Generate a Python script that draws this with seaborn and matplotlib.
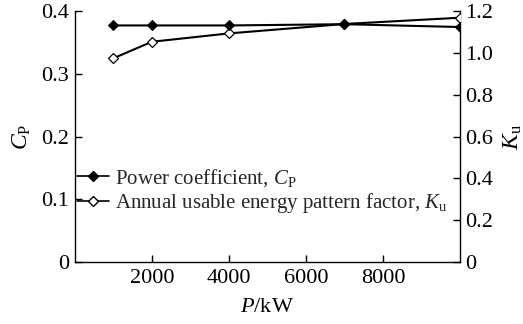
import matplotlib
matplotlib.use("Agg")
import matplotlib.pyplot as plt
import seaborn as sns
import pandas as pd
from matplotlib.lines import Line2D

power_kw = [1000, 2000, 4000, 7000, 10000]
cp_values = [0.377, 0.377, 0.377, 0.379, 0.3745]
ku_values = [0.974, 1.053, 1.093, 1.138, 1.168]

left_ticks = [0, 0.1, 0.2, 0.3, 0.4]
left_labels = ["0", "0.1", "0.2", "0.3", "0.4"]
right_ticks = [0, 0.2, 0.4, 0.6, 0.8, 1.0, 1.2]
right_labels = ["0", "0.2", "0.4", "0.6", "0.8", "1.0", "1.2"]
x_ticks = [2000, 4000, 6000, 8000]
x_labels = ["2000", "4000", "6000", "8000"]

sns.set_theme(style="white")
plt.rcParams["font.family"] = ["Liberation Serif", "DejaVu Serif"]
plt.rcParams["mathtext.fontset"] = "custom"
plt.rcParams["mathtext.rm"] = "Liberation Serif"
plt.rcParams["mathtext.it"] = "Liberation Serif:italic"

df = pd.DataFrame({"P": power_kw, "Cp": cp_values, "Ku": ku_values})

fig = plt.figure(figsize=(5.23, 3.24), dpi=100)
ax = fig.add_axes([0.143, 0.191, 0.7365, 0.775])
ax2 = ax.twinx()
ax.set_zorder(ax2.get_zorder() + 1)
ax.patch.set_visible(False)

sns.lineplot(data=df, x="P", y="Cp", ax=ax, color="black", linewidth=1.5,
             marker="D", markersize=5, markerfacecolor="black",
             markeredgecolor="black", zorder=4)
sns.lineplot(data=df, x="P", y="Ku", ax=ax2, color="black", linewidth=1.5,
             marker="D", markersize=5, markerfacecolor="white",
             markeredgecolor="black", markeredgewidth=0.9, zorder=3)

ax.set_xlim(0, 10000)
ax.set_ylim(0, 0.4)
ax2.set_ylim(0, 1.2)

ax.set_xticks(x_ticks)
ax.set_xticklabels(x_labels)
ax.set_yticks(left_ticks)
ax.set_yticklabels(left_labels)
ax2.set_yticks(right_ticks)
ax2.set_yticklabels(right_labels)

fs = 16
for a in (ax, ax2):
    for s in a.spines.values():
        s.set_color("black")
        s.set_linewidth(1.0)
    a.spines["top"].set_visible(False)
ax.spines["right"].set_visible(False)
ax2.spines["left"].set_visible(False)
ax2.spines["bottom"].set_visible(False)
ax2.spines["right"].set_visible(True)

ax.tick_params(axis="x", direction="in", length=5, width=1, colors="black",
               labelsize=fs, bottom=True, top=False, pad=5)
ax.tick_params(axis="y", direction="in", length=5, width=1, colors="black",
               labelsize=fs, left=True, right=False, pad=4)
ax2.tick_params(axis="y", direction="in", length=5, width=1, colors="black",
                labelsize=fs, right=True, left=False, pad=4)

ax.set_xlabel(r"$P$/kW", fontsize=fs, color="black", labelpad=7)
ax.set_ylabel(r"$C_\mathrm{P}$", fontsize=17, color="black", labelpad=6)
ax2.set_ylabel(r"$K_\mathrm{u}$", fontsize=17, color="black", labelpad=6)

handles = [
    Line2D([], [], color="black", linewidth=1.2, marker="D", markersize=5,
           markerfacecolor="black", markeredgecolor="black"),
    Line2D([], [], color="black", linewidth=1.2, marker="D", markersize=5,
           markerfacecolor="white", markeredgecolor="black"),
]
labels = [r"Power coefficient, $C_\mathrm{P}$",
          r"Annual usable energy pattern factor, $K_\mathrm{u}$"]
leg = ax.legend(handles, labels, loc="lower left", bbox_to_anchor=(-0.015, 0.155),
                frameon=False, fontsize=15, handlelength=1.5, handletextpad=0.3,
                labelspacing=0.1, borderaxespad=0.0)
leg.set_zorder(10)

fig.savefig("out.png", dpi=100)
